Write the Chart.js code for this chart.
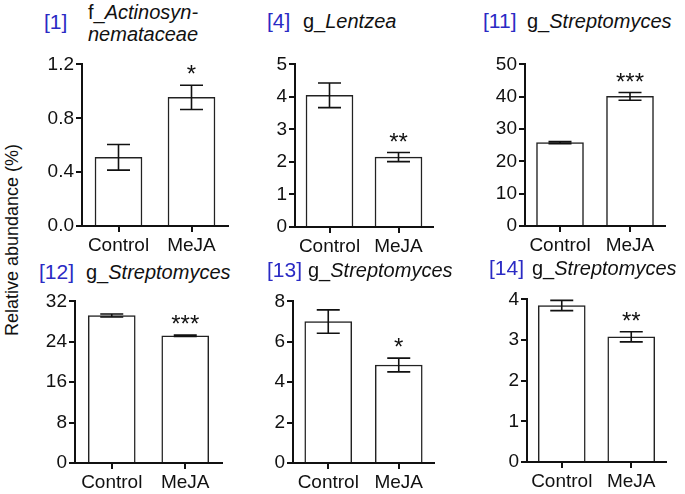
<!DOCTYPE html>
<html>
<head>
<meta charset="utf-8">
<script src="https://cdn.jsdelivr.net/npm/chart.js@4.4.0/dist/chart.umd.min.js"></script>
<style>
  body { margin: 0; background: #fff; }
  #wrap { position: relative; width: 685px; height: 494px; font-family: 'Liberation Sans', Arial, sans-serif; }
  canvas { position: absolute; }
  .ttl { position: absolute; font-size: 20px; line-height: 22px; color: #111; white-space: nowrap; }
  .ttl.id { color: #2a2ac4; font-size: 21px; }
  .ttl i { font-style: italic; }
  #ylab { position: absolute; left: 12px; top: 240px; font-size: 18px; color: #111; white-space: nowrap;
          transform: translate(-50%, -50%) rotate(-90deg); }
</style>
</head>
<body>
<div id="wrap">
  <div id="ylab">Relative abundance (%)</div>
</div>
<script>
const groups = ['Control', 'MeJA'];
const panelIds = ['[1]', '[4]', '[11]', '[12]', '[13]', '[14]'];
const taxonPrefix = ['f_', 'g_', 'g_', 'g_', 'g_', 'g_'];
const taxonName = [['Actinosyn-', 'nemataceae'], ['Lentzea'], ['Streptomyces'], ['Streptomyces'], ['Streptomyces'], ['Streptomyces']];
const controlMean = [0.51, 4.05, 25.8, 29.2, 7.0, 3.85];
const controlErr = [0.095, 0.38, 0.3, 0.3, 0.58, 0.125];
const mejaMean = [0.955, 2.15, 40.1, 25.2, 4.85, 3.08];
const mejaErr = [0.09, 0.14, 1.2, 0.15, 0.34, 0.125];
const yMax = [1.2, 5, 50, 32, 8, 4];
const yStep = [0.4, 1, 10, 8, 2, 1];
const tickDecimals = [1, 0, 0, 0, 0, 0];
const stars = ['*', '**', '***', '***', '*', '**'];

// where each plot frame sits on the page: y-axis x, top, baseline, right end
const frames = [
  { ax: 82, top: 63, base: 226, end: 228, idX: 44, nameX: 88, titleTop: 11, nameTop: 1 },
  { ax: 295, top: 63, base: 227, end: 433, idX: 267, nameX: 303, titleTop: 10, nameTop: 10 },
  { ax: 525, top: 63, base: 226, end: 665, idX: 483, nameX: 527, titleTop: 10, nameTop: 10 },
  { ax: 75, top: 300, base: 463, end: 222, idX: 39, nameX: 86, titleTop: 261, nameTop: 261 },
  { ax: 293, top: 300, base: 463, end: 434, idX: 267, nameX: 308, titleTop: 259, nameTop: 259 },
  { ax: 527, top: 298, base: 462, end: 666, idX: 489, nameX: 532, titleTop: 257, nameTop: 257 }
];

const FONT = "'Liberation Sans', Arial, sans-serif";
const YW = 50, PADT = 12, XH = 34;

const errorBars = {
  id: 'errorBars',
  afterDatasetsDraw(chart, args, opts) {
    const ctx = chart.ctx;
    const meta = chart.getDatasetMeta(0);
    const y = chart.scales.y;
    ctx.save();
    ctx.strokeStyle = '#111';
    ctx.lineWidth = 1.6;
    meta.data.forEach((bar, i) => {
      const m = opts.means[i], e = opts.errs[i];
      const yt = y.getPixelForValue(m + e), yb = y.getPixelForValue(m - e);
      const x = bar.x;
      ctx.beginPath();
      ctx.moveTo(x, yt); ctx.lineTo(x, yb);
      ctx.moveTo(x - 11.5, yt); ctx.lineTo(x + 11.5, yt);
      ctx.moveTo(x - 11.5, yb); ctx.lineTo(x + 11.5, yb);
      ctx.stroke();
    });
    // significance mark over MeJA
    const bar = meta.data[1];
    const yt = y.getPixelForValue(opts.means[1] + opts.errs[1]);
    ctx.fillStyle = '#111';
    ctx.font = '24px ' + FONT;
    ctx.textAlign = 'center';
    ctx.textBaseline = 'alphabetic';
    ctx.fillText(opts.star, bar.x, yt - 3);
    ctx.restore();
  }
};

const wrap = document.getElementById('wrap');

frames.forEach((f, k) => {
  const id = document.createElement('div');
  id.className = 'ttl id';
  id.style.left = f.idX + 'px';
  id.style.top = f.titleTop + 'px';
  id.textContent = panelIds[k];
  wrap.appendChild(id);

  const nm = document.createElement('div');
  nm.className = 'ttl';
  nm.style.left = f.nameX + 'px';
  nm.style.top = f.nameTop + 'px';
  nm.innerHTML = taxonPrefix[k] + '<i>' + taxonName[k].join('</i><br><i>') + '</i>';
  wrap.appendChild(nm);

  const cv = document.createElement('canvas');
  const w = YW + (f.end - f.ax) + 2;
  const h = PADT + (f.base - f.top) + XH;
  cv.width = w; cv.height = h;
  cv.style.left = (f.ax - YW) + 'px';
  cv.style.top = (f.top - PADT) + 'px';
  cv.style.width = w + 'px'; cv.style.height = h + 'px';
  wrap.appendChild(cv);

  const axisCommon = {
    grid: { display: true, drawOnChartArea: false, drawTicks: true, tickLength: 6, color: '#111', lineWidth: 2 },
    border: { display: true, color: '#111', width: 2 }
  };

  new Chart(cv.getContext('2d'), {
    type: 'bar',
    data: {
      labels: groups,
      datasets: [{
        data: [controlMean[k], mejaMean[k]],
        backgroundColor: '#fff',
        borderColor: '#222',
        borderWidth: 1.5,
        barThickness: 47
      }]
    },
    options: {
      responsive: false,
      animation: false,
      devicePixelRatio: 1,
      layout: { padding: { top: PADT, left: 0, right: 2, bottom: 0 } },
      plugins: {
        legend: { display: false },
        tooltip: { enabled: false },
        errorBars: { means: [controlMean[k], mejaMean[k]], errs: [controlErr[k], mejaErr[k]], star: stars[k] }
      },
      scales: {
        x: {
          ...axisCommon,
          offset: true,
          grid: { ...axisCommon.grid, offset: false },
          ticks: { color: '#111', font: { size: 19, family: FONT }, padding: 2, maxRotation: 0, autoSkip: false },
          afterFit: s => { s.height = XH; }
        },
        y: {
          ...axisCommon,
          min: 0,
          max: yMax[k],
          ticks: {
            stepSize: yStep[k],
            color: '#111',
            font: { size: 19, family: FONT },
            padding: 2,
            callback: v => Number(v).toFixed(tickDecimals[k])
          },
          afterFit: s => { s.width = YW; }
        }
      }
    },
    plugins: [errorBars]
  });
});
</script>
</body>
</html>
